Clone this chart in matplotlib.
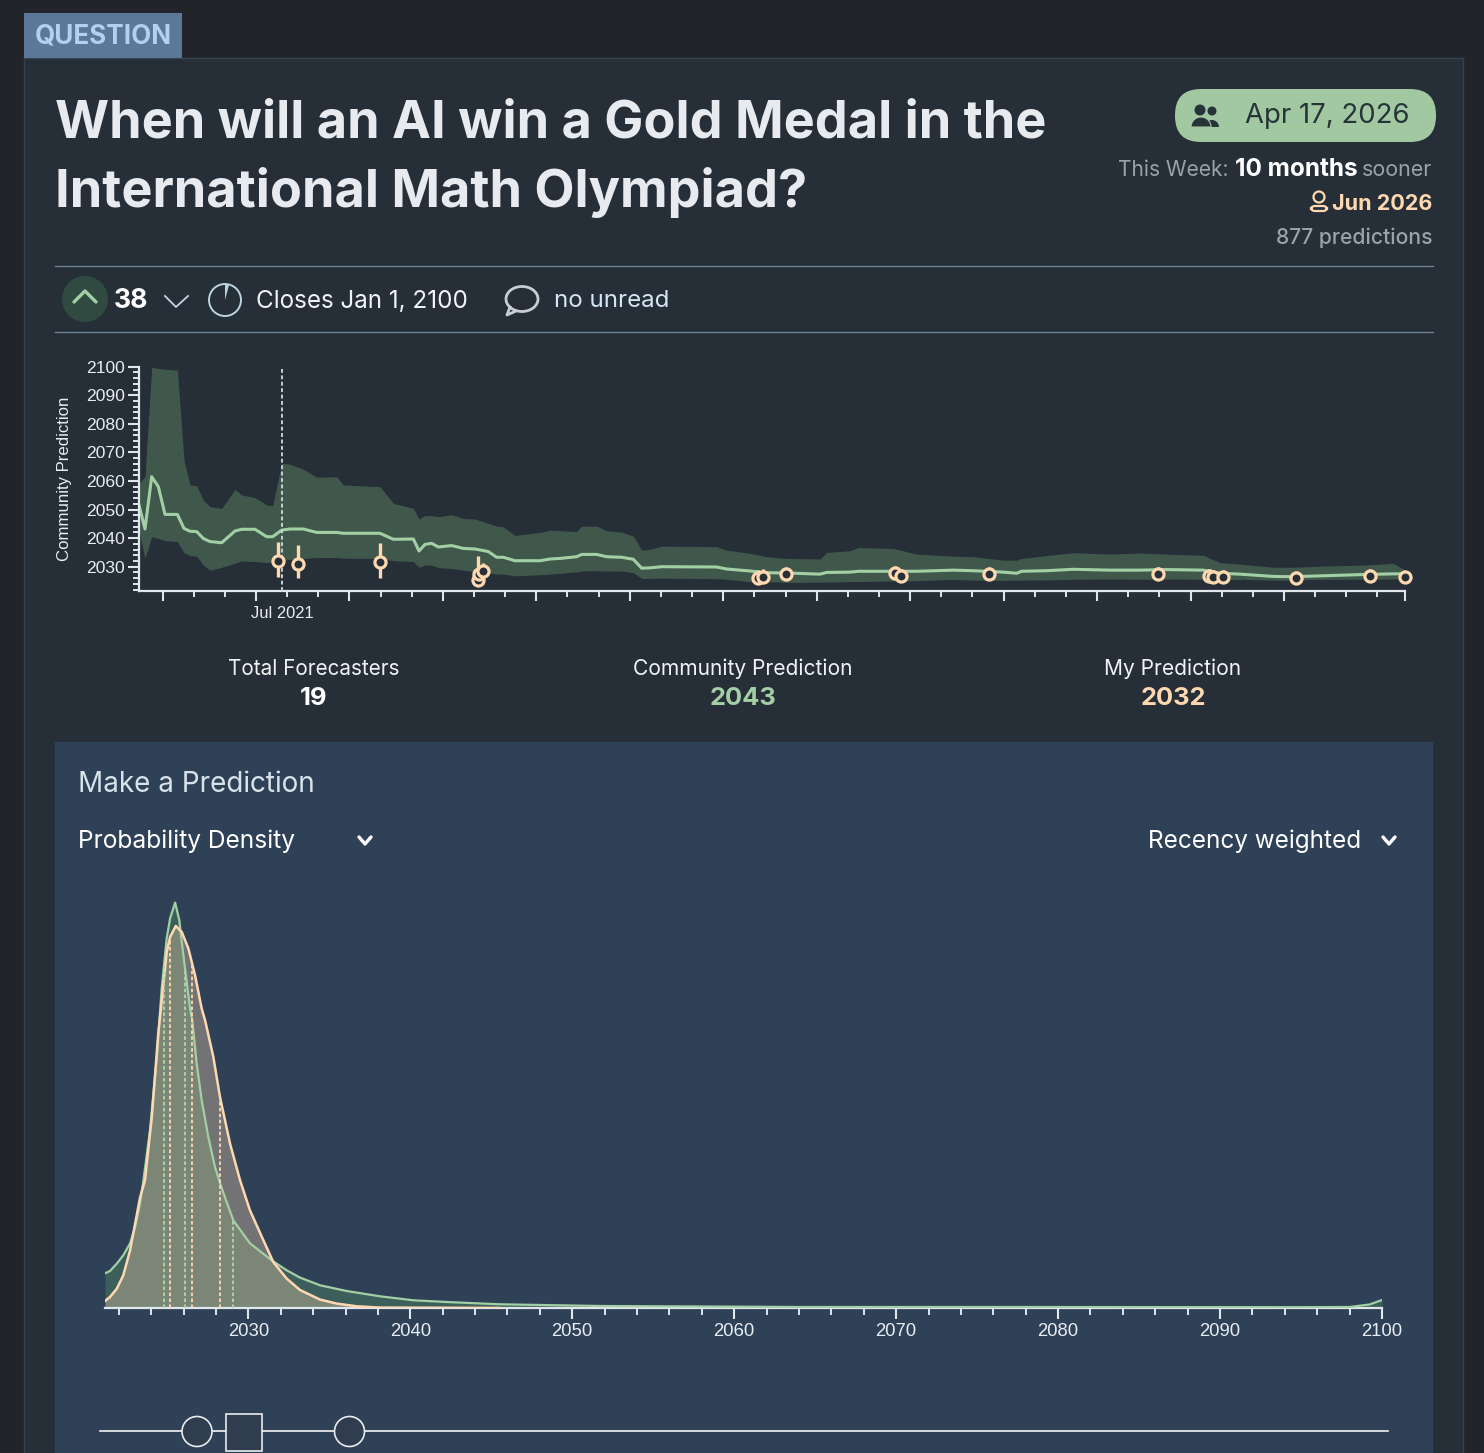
import numpy as np
import matplotlib
matplotlib.use("Agg")
import matplotlib.pyplot as plt
from matplotlib.patches import Circle, Ellipse, FancyBboxPatch, Rectangle, Wedge
from matplotlib.ticker import FixedLocator, NullFormatter

# community prediction over time, x is months counted from Jan 2021
hist_months = [2.244, 2.437, 2.651, 2.865, 3.079, 3.475, 3.689, 3.881, 4.095, 4.309, 4.523, 4.898,
               5.326, 5.540, 5.968, 6.343, 6.535, 6.824, 7.092, 7.520, 7.948, 8.590, 8.804, 9.981,
               10.409, 11.051, 11.233, 11.425, 11.639, 11.853, 12.282, 12.656, 13.030, 13.459,
               13.726, 13.940, 14.315, 15.117, 15.438, 15.759, 16.294, 16.455, 16.936, 17.257,
               17.739, 18.113, 18.381, 18.648, 19.023, 20.788, 21.109, 21.859, 22.393, 23.036,
               24.106, 24.320, 25.069, 25.336, 26.460, 27.209, 28.386, 29.028, 29.991, 30.419,
               30.58, 31.38, 32.24, 33.42, 34.38, 35.23, 36.41, 36.95, 37.59, 38.66, 39.30, 40.16,
               41.66, 42.51, 42.89]
hist_median = [2051.6, 2043.2, 2061.5, 2058.0, 2048.3, 2048.3, 2043.4, 2042.4, 2042.3, 2039.9, 2038.8, 2038.4,
               2042.5, 2043.1, 2043.1, 2040.5, 2040.5, 2042.8, 2043.2, 2043.2, 2042.0, 2042.0, 2041.7, 2041.7,
               2039.6, 2039.7, 2035.5, 2037.8, 2038.2, 2036.9, 2037.4, 2036.4, 2036.2, 2035.3,
               2033.3, 2033.3, 2032.1, 2032.1, 2032.7, 2032.9, 2033.5, 2034.3, 2034.3, 2033.5,
               2033.3, 2032.6, 2029.5, 2029.6, 2030.0, 2029.9, 2029.2, 2028.5, 2027.9, 2027.8,
               2027.4, 2028.0, 2028.1, 2028.4, 2028.4, 2028.4, 2028.8, 2028.6, 2028.1, 2027.7,
               2028.4, 2028.6, 2029.1, 2028.8, 2028.8, 2029.0, 2028.8, 2027.7, 2027.4, 2026.6, 2026.5, 2026.8,
               2027.3, 2027.5, 2027.5]
hist_upper = [2059.2, 2061.5, 2099.8, 2099.4, 2099.1, 2098.8, 2067.3, 2058.6, 2058.4, 2053.3, 2051.0, 2050.4,
              2057.1, 2055.1, 2054.2, 2051.6, 2051.4, 2066.2, 2065.9, 2064.1, 2061.3, 2061.5, 2058.6, 2058.0,
              2052.2, 2050.4, 2046.7, 2047.9, 2047.9, 2047.5, 2048.2, 2046.9, 2046.7, 2045.2,
              2044.2, 2044.0, 2040.9, 2042.0, 2042.8, 2042.6, 2042.3, 2044.2, 2044.2, 2042.6,
              2042.1, 2040.7, 2035.8, 2036.1, 2037.2, 2037.0, 2035.8, 2034.7, 2033.5, 2032.9,
              2032.7, 2035.0, 2035.6, 2036.7, 2036.4, 2034.4, 2033.7, 2033.5, 2032.3, 2032.3,
              2032.9, 2033.9, 2034.9, 2034.4, 2034.8, 2034.4, 2034.0, 2031.4, 2030.9, 2029.8, 2029.8, 2030.2,
              2030.6, 2031.2, 2028.8]
hist_lower = [2042.3, 2032.9, 2040.5, 2039.9, 2039.1, 2038.8, 2034.9, 2033.9, 2033.7, 2030.6, 2028.8, 2029.8,
              2031.2, 2032.0, 2031.8, 2031.5, 2031.5, 2032.3, 2032.6, 2032.9, 2033.2, 2033.2, 2033.0, 2032.9,
              2032.1, 2031.8, 2029.8, 2030.6, 2030.6, 2029.7, 2029.4, 2028.8, 2028.2, 2027.9,
              2027.4, 2027.4, 2026.8, 2027.2, 2027.4, 2027.7, 2028.2, 2028.5, 2028.6, 2028.5,
              2028.5, 2027.9, 2025.9, 2025.9, 2026.0, 2025.8, 2025.6, 2024.8, 2024.8, 2024.5,
              2024.6, 2024.6, 2024.8, 2024.8, 2025.0, 2025.1, 2025.6, 2025.3, 2025.2, 2025.3,
              2025.3, 2025.4, 2025.6, 2025.7, 2025.6, 2025.7, 2025.6, 2025.3, 2025.6, 2025.3, 2025.3, 2025.6,
              2025.6, 2025.7, 2025.9]

# my own predictions, centre with low and high ends
my_months = [6.717, 7.348, 9.981, 13.116, 13.159, 13.298, 22.126, 22.265, 23.004, 26.524, 26.706,
             29.542, 34.967, 36.604, 36.733, 37.032, 39.387, 41.751, 42.875]
my_center = [2032.1, 2031.0, 2031.5, 2025.3, 2027.4, 2028.4, 2026.1, 2026.4, 2027.4, 2027.7, 2026.7,
             2027.3, 2027.4, 2026.8, 2026.5, 2026.3, 2026.1, 2026.6, 2026.5]
my_low = [2026.5, 2025.9, 2026.1, 2024.2, 2025.6, 2026.6, 2024.6, 2024.9, 2025.9, 2026.2, 2025.2,
          2025.8, 2025.9, 2025.3, 2025.0, 2024.8, 2024.6, 2025.1, 2025.0]
my_high = [2038.8, 2037.6, 2038.2, 2033.7, 2030.0, 2031.2, 2028.9, 2029.2, 2029.9, 2030.2, 2029.2,
           2029.8, 2029.9, 2029.3, 2029.0, 2028.8, 2028.6, 2029.1, 2029.0]

# probability density of the resolution year
comm_years = [2021.15, 2021.46, 2021.88, 2022.28, 2022.70, 2023.01, 2023.32, 2023.52, 2023.93, 2024.35,
              2024.65, 2024.96, 2025.17, 2025.48, 2025.74, 2025.89, 2026.09, 2026.40, 2026.54, 2026.81,
              2027.12, 2027.53, 2027.94, 2028.36, 2029.07, 2030.10, 2031.44, 2032.37, 2033.19, 2034.43,
              2036.07, 2038.13, 2040.19, 2042.25, 2045.54, 2051.71, 2064.06, 2076.4, 2094.9, 2098.0,
              2099.23, 2100.0]
comm_density = [0.347, 0.370, 0.444, 0.527, 0.647, 0.81, 1.047, 1.277, 1.777, 2.51,
                3.197, 3.697, 3.897, 4.054, 3.877, 3.66, 3.397, 2.997, 2.877, 2.447,
                2.077, 1.71, 1.41, 1.197, 0.877, 0.647, 0.477, 0.377, 0.304, 0.227,
                0.17, 0.117, 0.077, 0.06, 0.037, 0.02, 0.01, 0.01, 0.008, 0.01,
                0.035, 0.08]
mine_years = [2021.15, 2021.46, 2021.88, 2022.28, 2022.70, 2023.01, 2023.32, 2023.62, 2024.04, 2024.44,
              2024.75, 2024.96, 2025.17, 2025.52, 2025.89, 2026.30, 2026.71, 2027.12, 2027.33, 2027.84,
              2028.25, 2028.87, 2029.49, 2030.10, 2030.93, 2031.54, 2032.37, 2033.19, 2034.43, 2035.46,
              2036.69, 2038.13, 2045.5]
mine_density = [0.07, 0.11, 0.194, 0.327, 0.577, 0.844, 1.11, 1.277, 1.91, 2.747,
                3.227, 3.56, 3.71, 3.82, 3.76, 3.594, 3.327, 2.994, 2.877, 2.51,
                2.11, 1.644, 1.277, 0.977, 0.677, 0.46, 0.294, 0.18, 0.084, 0.044,
                0.017, 0.004, 0.0]
comm_quartiles = [2024.79, 2026.09, 2029.07]
mine_quartiles = [2025.16, 2026.50, 2028.25]
density_ticks = [2030, 2040, 2050, 2060, 2070, 2080, 2090, 2100]

W = 1484
H = 1453
GREEN = "#a3cfa5"
PEACH = "#fed8b1"
UI_FONT = "Inter"
CHART_FONT = "Liberation Sans"

fig = plt.figure(figsize=(W / 100, H / 100), dpi=100, facecolor="#212529")

# page layer in pixel coordinates
page = fig.add_axes([0, 0, 1, 1], zorder=0)
page.set_xlim(0, W)
page.set_ylim(H, 0)
page.axis("off")


def txt(x, y, s, size, color="#ffffff", weight="normal", ha="left", family=UI_FONT):
    # size is given in pixels, the figure is at 100 dpi
    page.text(x, y, s, fontsize=size * 0.72, color=color, fontweight=weight, ha=ha, va="center", family=family)


def chevron(x, y, w, h, color, lw):
    page.plot([x - w, x, x + w], [y + h, y, y + h], color=color, lw=lw, solid_capstyle="round", solid_joinstyle="round")


page.add_patch(Rectangle((24, 58), 1439, 1400, fc="#262e38", ec="#36424f", lw=1))
page.add_patch(Rectangle((24, 13), 158, 45, fc="#5b7898", ec="none"))
txt(35, 36.5, "QUESTION", 26, "#b4d0ef", "bold")

txt(55, 124, "When will an AI win a Gold Medal in the", 52.2, "#e7eaee", "bold")
txt(55, 192, "International Math Olympiad?", 52.2, "#e7eaee", "bold")

# community date pill
page.add_patch(FancyBboxPatch((1175, 89), 261, 53, boxstyle="round,pad=0,rounding_size=26", fc="#a1c8a0", ec="none"))
page.add_patch(Circle((1200, 110), 5.5, fc="#26343a", ec="none"))
page.add_patch(Circle((1212, 111), 4.5, fc="#26343a", ec="none"))
page.add_patch(Wedge((1212, 127), 7, 180, 360, fc="#26343a", ec="none"))
page.add_patch(Wedge((1201, 127), 10, 180, 360, fc="#26343a", ec="#a1c8a0", lw=0.8))
txt(1245, 116, "Apr 17, 2026", 27.5, "#26343a")

txt(1432, 170, "sooner", 21.4, "#9aa3ac", ha="right")
txt(1358, 169, "10 months", 24.4, "#ffffff", "bold", ha="right")
txt(1228, 170, "This Week:", 21, "#9aa3ac", ha="right")
txt(1432, 204, "Jun 2026", 21.6, PEACH, "bold", ha="right")
page.add_patch(Circle((1319, 197), 5.5, fc="none", ec=PEACH, lw=1.6))
page.add_patch(FancyBboxPatch((1311, 206), 16, 5, boxstyle="round,pad=0,rounding_size=4", fc="none", ec=PEACH, lw=1.6))
txt(1432, 238, "877 predictions", 21.1, "#9aa3ac", "medium", ha="right")

page.plot([55, 1433], [266, 266], color="#6d8196", lw=1)
page.plot([55, 1433], [332, 332], color="#6d8196", lw=1)

# vote, close date and comment row
page.add_patch(Ellipse((85, 299), 46, 46, fc="#304a42", ec="none"))
chevron(85, 291, 11, 11, "#a3cfa5", 2.4)
txt(114, 301, "38", 26.5, "#ffffff", "bold")
page.plot([165, 176, 188], [296, 307, 296], color="#c4d5e4", lw=1.3)
page.add_patch(Circle((225, 300), 16, fc="none", ec="#bcd3e2", lw=1.4))
page.add_patch(Wedge((225, 300), 15.5, 270, 285, fc="#bcd3e2", ec="none"))
txt(256, 301, "Closes Jan 1, 2100", 24.2, "#f0f3f6")
page.add_patch(Ellipse((522, 299), 32, 25, fc="none", ec="#c9ced4", lw=2))
page.plot([510, 507, 516], [307, 315, 311], color="#c9ced4", lw=2)
txt(554, 301, "no unread", 24.1, "#d5e5f5")

txt(314, 669, "Total Forecasters", 20.7, "#f0f3f6", ha="center")
txt(314, 698.5, "19", 25.5, "#ffffff", "bold", ha="center")
txt(743, 669, "Community Prediction", 21, "#f0f3f6", ha="center")
txt(743, 698.5, "2043", 25.5, GREEN, "bold", ha="center")
txt(1173, 669, "My Prediction", 21, "#f0f3f6", ha="center")
txt(1173, 698.5, "2032", 25.5, PEACH, "bold", ha="center")

# prediction panel
page.add_patch(Rectangle((55, 742), 1378, 720, fc="#2f4157", ec="none"))
txt(78, 784, "Make a Prediction", 27.9, "#d9e1e9")
txt(78, 841, "Probability Density", 24.5, "#ffffff")
txt(1148, 841, "Recency weighted", 24.3, "#ffffff")
page.plot([359, 365, 371], [837, 844, 837], color="#ffffff", lw=2.4, solid_capstyle="round")
page.plot([1383, 1389, 1395], [837, 844, 837], color="#ffffff", lw=2.4, solid_capstyle="round")

# slider
page.plot([100, 1388], [1431, 1431], color="#f2f4f6", lw=1.2)
page.add_patch(Circle((197, 1431.5), 15, fc="#2f3d4f", ec="#e8ecef", lw=1.2, zorder=3))
page.add_patch(Circle((349.5, 1431.5), 15, fc="#2f3d4f", ec="#e8ecef", lw=1.2, zorder=3))
page.add_patch(Rectangle((225.5, 1413.5), 36, 37, fc="#2f3d4f", ec="#e8ecef", lw=1.2, zorder=3))


def axes_at(x0, y0, x1, y1):
    # axes placed by pixel box, y0 is the top edge
    ax = fig.add_axes([x0 / W, 1 - y1 / H, (x1 - x0) / W, (y1 - y0) / H], zorder=2)
    ax.patch.set_alpha(0)
    for side in ["top", "right"]:
        ax.spines[side].set_visible(False)
    return ax


# history chart
ax1 = axes_at(139, 366.7, 1405, 591)
ax1.set_xlim(2.244, 42.886)
ax1.set_ylim(2021.5, 2100)
ax1.fill_between(hist_months, hist_lower, hist_upper, color="#40584c", lw=0, zorder=1)
ax1.plot(hist_months, hist_median, color=GREEN, lw=2.2, zorder=2)
ax1.axvline(6.835, color="#c5ced6", lw=1.4, ls=(0, (2, 1.3)), zorder=3)
my_err = [np.array(my_center) - np.array(my_low), np.array(my_high) - np.array(my_center)]
ax1.errorbar(my_months, my_center, yerr=my_err, fmt="none", ecolor=PEACH, elinewidth=2.4, zorder=4)
ax1.plot(my_months, my_center, "o", ms=8, mfc="#262e38", mec=PEACH, mew=2.3, ls="none", zorder=5, clip_on=False)

ax1.spines["left"].set_color("#dfe6ec")
ax1.spines["bottom"].set_color("#dfe6ec")
ax1.spines["left"].set_linewidth(1.6)
ax1.spines["bottom"].set_linewidth(1.6)
ax1.xaxis.set_major_locator(FixedLocator(list(np.arange(3, 42, 3)) + [42.886]))
ax1.xaxis.set_minor_locator(FixedLocator(np.arange(3, 43, 1)))
ax1.xaxis.set_major_formatter(NullFormatter())
ax1.yaxis.set_major_locator(FixedLocator(np.arange(2030, 2101, 10)))
ax1.yaxis.set_minor_locator(FixedLocator(np.arange(2022, 2101, 2)))
ax1.tick_params(axis="x", which="major", length=7, width=1.5, color="#dfe6ec")
ax1.tick_params(axis="x", which="minor", length=4, width=1.4, color="#dfe6ec")
ax1.tick_params(axis="y", which="major", length=8, width=1.5, color="#dfe6ec", pad=2,
                labelsize=12.6, labelcolor="#e8edf2")
ax1.tick_params(axis="y", which="minor", length=4.5, width=1.4, color="#dfe6ec")
for lab in ax1.get_yticklabels():
    lab.set_family(CHART_FONT)
txt(282, 613.5, "Jul 2021", 16.5, "#e8edf2", ha="center", family=CHART_FONT)
page.text(65, 479, "Community Prediction", fontsize=12.1, color="#e8edf2", rotation=90, ha="center", va="center",
          family=CHART_FONT)

# density chart
ax2 = axes_at(105, 880, 1382, 1308)
ax2.set_xlim(2021.15, 2100)
ax2.set_ylim(0, 4.28)
ax2.fill_between(comm_years, 0, comm_density, color="#508460", alpha=0.45, lw=0, zorder=1)
ax2.fill_between(mine_years, 0, mine_density, color=PEACH, alpha=0.33, lw=0, zorder=2)
ax2.plot(comm_years, comm_density, color=GREEN, lw=1.6, zorder=3)
ax2.plot(mine_years, mine_density, color=PEACH, lw=1.8, zorder=4)
for q in comm_quartiles:
    ax2.plot([q, q], [0, np.interp(q, comm_years, comm_density)], color="#b5d3b0", lw=1.3, ls=(0, (2, 1.3)), zorder=5)
for q in mine_quartiles:
    ax2.plot([q, q], [0, np.interp(q, mine_years, mine_density)], color=PEACH, lw=1.3, ls=(0, (2, 1.3)), zorder=5)

ax2.spines["left"].set_visible(False)
ax2.spines["bottom"].set_color("#dfe6ec")
ax2.spines["bottom"].set_linewidth(1.6)
ax2.set_yticks([])
ax2.xaxis.set_major_locator(FixedLocator(density_ticks))
ax2.xaxis.set_minor_locator(FixedLocator(np.arange(2022, 2100, 2)))
ax2.tick_params(axis="x", which="major", length=8, width=1.5, color="#dfe6ec", pad=3,
                labelsize=13.3, labelcolor="#e8edf2")
ax2.tick_params(axis="x", which="minor", length=5, width=1.4, color="#dfe6ec")
for lab in ax2.get_xticklabels():
    lab.set_family(CHART_FONT)

fig.savefig("out.png", dpi=100, facecolor=fig.get_facecolor())
